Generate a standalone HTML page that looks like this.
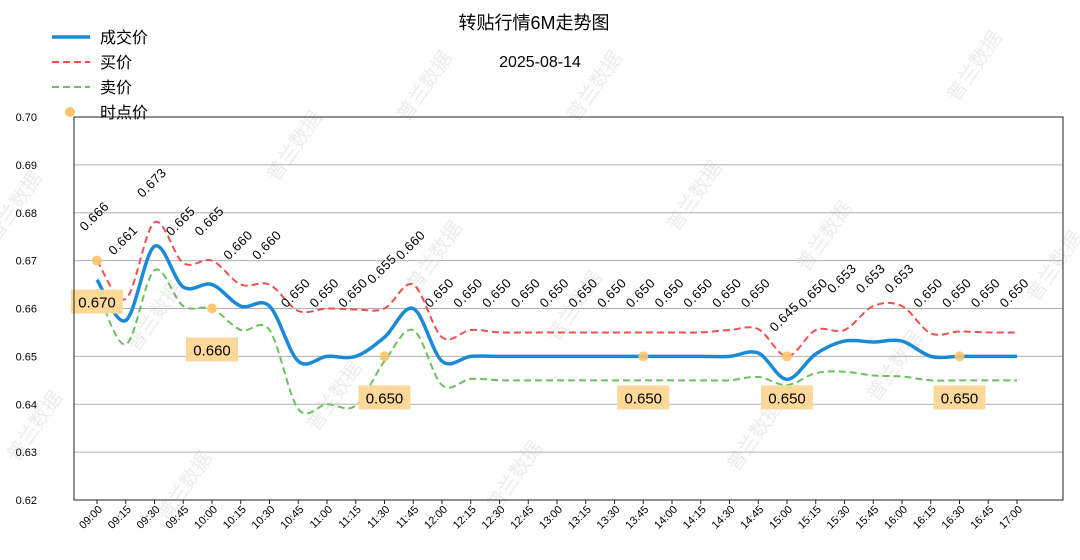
<!DOCTYPE html>
<html><head><meta charset="utf-8">
<style>
body{margin:0;background:#fff;}
svg text{font-family:"Liberation Sans","Noto Sans CJK SC",sans-serif;}
</style></head>
<body>
<svg id="chart" width="1080" height="555" xmlns="http://www.w3.org/2000/svg">
<g id="wm"></g>
<text x="534" y="29" font-size="18" text-anchor="middle">转贴行情6M走势图</text>
<text x="540" y="67" font-size="16" text-anchor="middle">2025-08-14</text>
<g>
<g><line x1="52" y1="37" x2="90" y2="37" stroke="#1a8ad6" stroke-width="3.5"/><text x="100" y="43" font-size="16">成交价</text></g>
<g><line x1="52" y1="62" x2="90" y2="62" stroke="#f05050" stroke-width="2" stroke-dasharray="7,4"/><text x="100" y="68" font-size="16">买价</text></g>
<g><line x1="52" y1="87" x2="90" y2="87" stroke="#6cc060" stroke-width="2" stroke-dasharray="7,4"/><text x="100" y="93" font-size="16">卖价</text></g>
<g><circle cx="70" cy="112" r="5" fill="#fbc46a"/><text x="100" y="118" font-size="16">时点价</text></g>
</g>
<g id="grid"></g>
<g id="series"></g>
<rect x="74" y="117" width="989" height="383" fill="none" stroke="#222" stroke-width="1"/>
<g id="axes"></g>
</svg>
<script>
const times=["09:00","09:15","09:30","09:45","10:00","10:15","10:30","10:45","11:00","11:15","11:30","11:45","12:00","12:15","12:30","12:45","13:00","13:15","13:30","13:45","14:00","14:15","14:30","14:45","15:00","15:15","15:30","15:45","16:00","16:15","16:30","16:45","17:00"];
const trade=[0.666,0.6575,0.673,0.6645,0.665,0.6605,0.6605,0.649,0.650,0.650,0.654,0.660,0.649,0.650,0.650,0.650,0.650,0.650,0.650,0.650,0.650,0.650,0.650,0.6507,0.6452,0.6505,0.6532,0.653,0.6532,0.650,0.650,0.650,0.650];
const buy=[0.670,0.662,0.678,0.6695,0.670,0.665,0.665,0.6595,0.660,0.6598,0.660,0.665,0.654,0.6555,0.655,0.655,0.655,0.655,0.655,0.655,0.655,0.655,0.6555,0.6557,0.650,0.6555,0.6555,0.6605,0.6605,0.6548,0.6552,0.655,0.655];
const sell=[0.664,0.6525,0.668,0.6605,0.660,0.6555,0.6555,0.639,0.640,0.6397,0.649,0.6555,0.644,0.6453,0.645,0.645,0.645,0.645,0.645,0.645,0.645,0.645,0.645,0.6457,0.644,0.6465,0.6468,0.646,0.6458,0.645,0.645,0.645,0.645];
const labels=["0.666","0.661","0.673","0.665","0.665","0.660","0.660","0.650","0.650","0.650","0.655","0.660","0.650","0.650","0.650","0.650","0.650","0.650","0.650","0.650","0.650","0.650","0.650","0.650","0.645","0.650","0.653","0.653","0.653","0.650","0.650","0.650","0.650"];
const pointTimes=["09:00","10:00","11:30","13:45","15:00","16:30"];
const pointVals=[0.670,0.660,0.650,0.650,0.650,0.650];
const yTicks=[0.62,0.63,0.64,0.65,0.66,0.67,0.68,0.69,0.70];

const NS="http://www.w3.org/2000/svg";
const X0=97,X1=1017,Y0=500,Y1=117,YMIN=0.62,YMAX=0.70;
const xs=i=>X0+(X1-X0)*i/(times.length-1);
const ys=v=>Y0-(v-YMIN)/(YMAX-YMIN)*(Y0-Y1);
function mk(t,a,p){const e=document.createElementNS(NS,t);for(const k in a)e.setAttribute(k,a[k]);(p||document.getElementById('series')).appendChild(e);return e;}

const grid=document.getElementById('grid'),axes=document.getElementById('axes');
yTicks.forEach(v=>{
 const g=mk('line',{x1:74,x2:1063,y1:ys(v),y2:ys(v),stroke:'#b0b0b0','stroke-width':1},grid);
 
 
 const t=mk('text',{x:37,y:ys(v)+4,'font-size':11,'text-anchor':'end'},axes);
 t.textContent=v.toFixed(2);
 
 
});
times.forEach((s,i)=>{
 const x=xs(i);
 mk('line',{x1:x,x2:x,y1:500,y2:504,stroke:'#222'},axes);
 const t=mk('text',{x:x+6,y:510,'font-size':11,'text-anchor':'end',transform:`rotate(-45 ${x+6} 510)`},axes);
 t.textContent=s;
 
 
});
function smooth(arr){
 const p=arr.map((v,i)=>[xs(i),ys(v)]);
 let d=`M${p[0][0]},${p[0][1]}`;
 for(let i=0;i<p.length-1;i++){
  const a=p[Math.max(0,i-1)],b=p[i],c=p[i+1],e=p[Math.min(p.length-1,i+2)];
  d+=` C${b[0]+(c[0]-a[0])/6},${b[1]+(c[1]-a[1])/6} ${c[0]-(e[0]-b[0])/6},${c[1]-(e[1]-b[1])/6} ${c[0]},${c[1]}`;
 }
 return d;
}
const pb=mk('path',{d:smooth(buy),fill:'none',stroke:'#f05050','stroke-width':2,'stroke-dasharray':'7,4'});


const ps=mk('path',{d:smooth(sell),fill:'none',stroke:'#6cc060','stroke-width':2,'stroke-dasharray':'7,4'});


const pt=mk('path',{d:smooth(trade),fill:'none',stroke:'#1a8ad6','stroke-width':3.5});


labels.forEach((s,i)=>{
 const x=xs(i)-12,y=ys(parseFloat(s))-48;
 const t=mk('text',{x:x,y:y,'font-size':13,'letter-spacing':'0.5',transform:`rotate(-45 ${x} ${y})`});
 t.textContent=s;
 
 
});
pointTimes.forEach((s,k)=>{
 const i=times.indexOf(s),x=xs(i),y=ys(pointVals[k]);
 const c=mk('circle',{cx:x,cy:y,r:5,fill:'#fbc46a',opacity:0.9});
 
 
 const r=mk('rect',{x:x-26,y:y+29,width:52,height:24,fill:'#fcd998'});
 
 
 const t=mk('text',{x:x,y:y+47,'font-size':15,'text-anchor':'middle'});
 t.textContent=pointVals[k].toFixed(3);
 
 
});
const wm=document.getElementById('wm');
[[20,210],[160,320],[300,150],[440,260],[600,90],[700,200],[830,240],[980,70],[40,430],[190,490],[340,400],[520,480],[580,310],[760,440],[900,370],[1060,270],[430,90]].forEach(([x,y])=>{
 const t=mk('text',{x:x,y:y,'font-size':20,fill:'#ececec','text-anchor':'middle',transform:`rotate(-55 ${x} ${y})`},wm);
 t.textContent='普兰数据';
 
 
});
</script>
</body></html>
